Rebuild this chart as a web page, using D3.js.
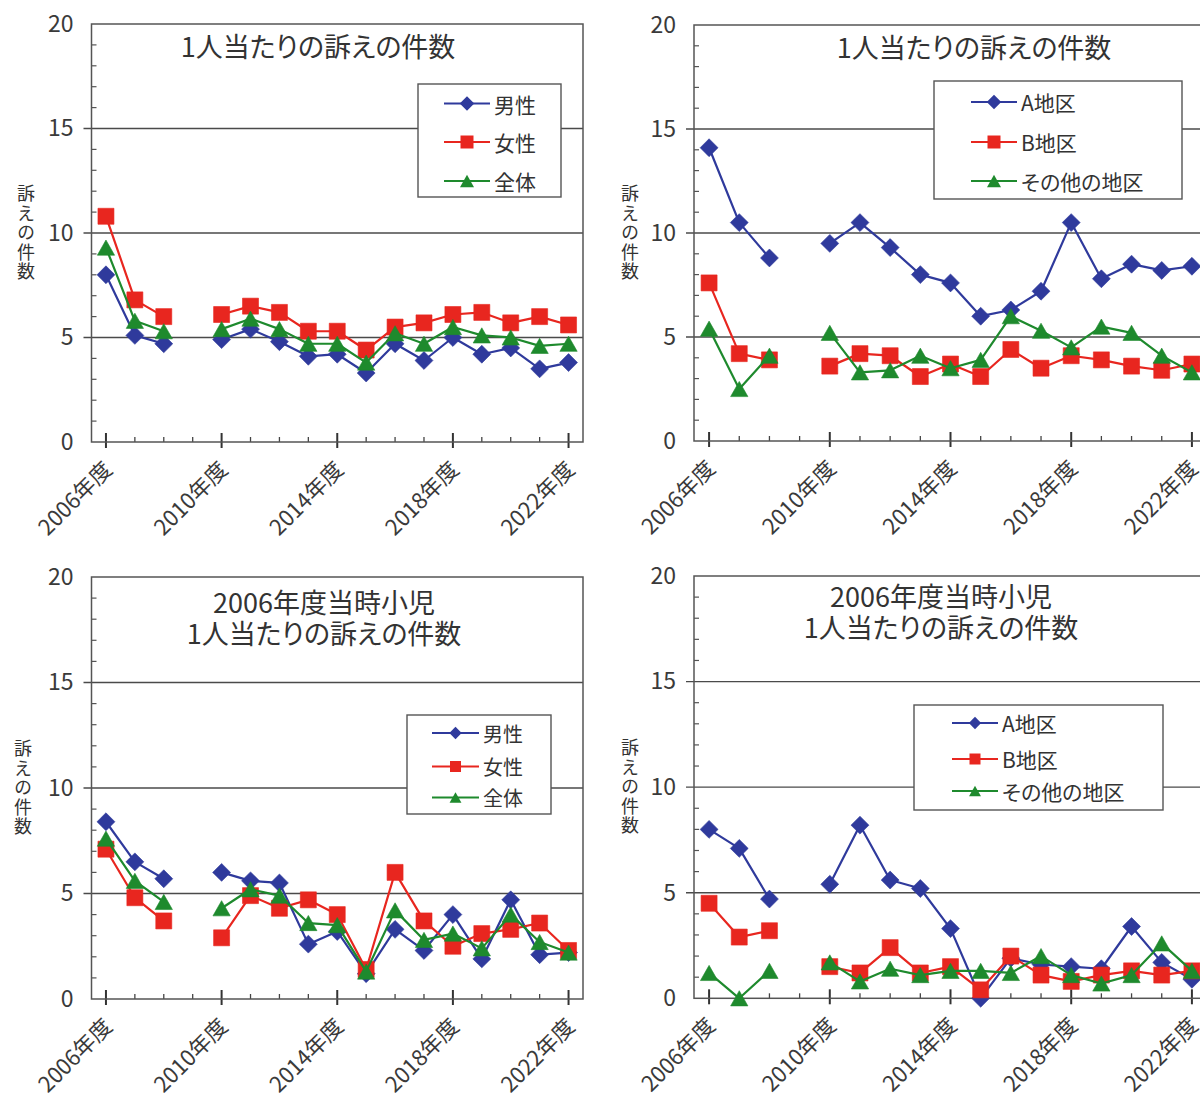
<!DOCTYPE html>
<html><head><meta charset="utf-8">
<script src="https://cdn.jsdelivr.net/npm/d3@7"></script>
<style>
body{margin:0;background:#fff}
svg{display:block}
text{font-family:"Noto Sans CJK JP","Noto Sans",sans-serif;fill:#333}
.ttl{font-feature-settings:"palt"}
.vt{writing-mode:vertical-rl;text-orientation:upright}
</style>
</head><body>
<svg id="c" width="1200" height="1100"></svg>
<script>
// ---------- data ----------
const years = [2006,2007,2008,2009,2010,2011,2012,2013,2014,2015,2016,2017,2018,2019,2020,2021,2022];
const xTickYears = [2006,2010,2014,2018,2022];
const yTicks = [0,5,10,15,20];

// top-left: 1人当たりの訴えの件数 (男性/女性/全体)
const tlMale   = [8.0,5.1,4.7,null,4.9,5.4,4.8,4.1,4.2,3.3,4.7,3.9,5.0,4.2,4.5,3.5,3.8];
const tlFemale = [10.8,6.8,6.0,null,6.1,6.5,6.2,5.3,5.3,4.4,5.5,5.7,6.1,6.2,5.7,6.0,5.6];
const tlTotal  = [9.3,5.8,5.3,null,5.4,5.9,5.4,4.7,4.7,3.8,5.2,4.7,5.5,5.1,5.0,4.6,4.7];

// top-right: 1人当たりの訴えの件数 (A地区/B地区/その他の地区)
const trA     = [14.1,10.5,8.8,null,9.5,10.5,9.3,8.0,7.6,6.0,6.3,7.2,10.5,7.8,8.5,8.2,8.4];
const trB     = [7.6,4.2,3.9,null,3.6,4.2,4.1,3.1,3.7,3.1,4.4,3.5,4.1,3.9,3.6,3.4,3.7];
const trOther = [5.4,2.5,4.1,null,5.2,3.3,3.4,4.1,3.5,3.9,6.0,5.3,4.5,5.5,5.2,4.1,3.3];

// bottom-left: 2006年度当時小児 (男性/女性/全体)
const blMale   = [8.4,6.5,5.7,null,6.0,5.6,5.5,2.6,3.2,1.2,3.3,2.3,4.0,1.9,4.7,2.1,2.2];
const blFemale = [7.1,4.8,3.7,null,2.9,4.9,4.3,4.7,4.0,1.4,6.0,3.7,2.5,3.1,3.3,3.6,2.3];
const blTotal  = [7.6,5.6,4.6,null,4.3,5.2,4.9,3.6,3.5,1.3,4.2,2.8,3.1,2.4,4.0,2.7,2.2];

// bottom-right: 2006年度当時小児 (A地区/B地区/その他の地区)
const brA     = [8.0,7.1,4.7,null,5.4,8.2,5.6,5.2,3.3,0.0,1.9,1.6,1.5,1.4,3.4,1.7,0.9];
const brB     = [4.5,2.9,3.2,null,1.5,1.2,2.4,1.2,1.5,0.4,2.0,1.1,0.8,1.1,1.3,1.1,1.3];
const brOther = [1.2,0.0,1.3,null,1.7,0.8,1.4,1.1,1.3,1.3,1.2,2.0,1.1,0.7,1.1,2.6,1.3];

const genderNames = ["男性","女性","全体"];
const areaNames = ["A地区","B地区","その他の地区"];
const titleTop = ["1人当たりの訴えの件数"];
const titleBottom = ["2006年度当時小児","1人当たりの訴えの件数"];
const yAxisTitle = "訴えの件数";
const yearSuffix = "年度";

// ---------- styles / layout ----------
const colors = ["#2f3a9c","#e8261f","#1e8a2d"];
const shapes = ["diamond","square","triangle"];

const panels = [
  {x0:91.5,x1:583,yb:442,yt:24, series:[tlMale,tlFemale,tlTotal], names:genderNames,
   title:titleTop, tx:318, ty:47, yTitleX:26,
   lg:{x:418,y:84,w:143,h:113,rows:[103.5,142,181],l0:444,l1:490,tx:494,fs:21,ms:13}},
  {x0:694,x1:1207,yb:441,yt:25, series:[trA,trB,trOther], names:areaNames,
   title:titleTop, tx:974, ty:48, yTitleX:630,
   lg:{x:934,y:81,w:248,h:118,rows:[102,142,181],l0:971,l1:1017,tx:1021,fs:21,ms:13}},
  {x0:91.5,x1:583,yb:999,yt:577, series:[blMale,blFemale,blTotal], names:genderNames,
   title:titleBottom, tx:324, ty:603, yTitleX:23,
   lg:{x:407,y:715,w:144,h:99,rows:[733,766.5,797.5],l0:432,l1:479,tx:483,fs:20,ms:11}},
  {x0:694,x1:1207,yb:998.3,yt:576, series:[brA,brB,brOther], names:areaNames,
   title:titleBottom, tx:941, ty:597, yTitleX:630,
   lg:{x:914,y:705,w:249,h:105,rows:[723,759,791],l0:952,l1:998,tx:1002,fs:21,ms:11}}
];

function markerPath(shape, s){
  if(shape==="diamond"){const r=s*0.56;return `M0,${-r}L${r},0L0,${r}L${-r},0Z`;}
  if(shape==="square"){const h=s/2;return `M${-h},${-h}H${h}V${h}H${-h}Z`;}
  const w=s*1.08,h=s*0.95;return `M0,${-h/2}L${w/2},${h/2}L${-w/2},${h/2}Z`;
}

const svg = d3.select("#c");
svg.append("rect").attr("width",1200).attr("height",1100).attr("fill","#fff");

panels.forEach(p=>{
  const g = svg.append("g");
  const x = d3.scaleLinear().domain([2005.5,2022.5]).range([p.x0,p.x1]);
  const y = d3.scaleLinear().domain([0,20]).range([p.yb,p.yt]);

  g.append("rect").attr("x",p.x0).attr("y",p.yt).attr("width",p.x1-p.x0).attr("height",p.yb-p.yt)
    .attr("fill","#fff");

  // gridlines
  g.selectAll(".grid").data([5,10,15]).join("line")
    .attr("x1",p.x0-8).attr("x2",p.x1).attr("y1",d=>y(d)).attr("y2",d=>y(d))
    .attr("stroke","#4a4a4a").attr("stroke-width",1.4);

  // minor y ticks (inward)
  g.selectAll(".ymin").data(d3.range(1,20).filter(v=>v%5!==0)).join("line")
    .attr("x1",p.x0).attr("x2",p.x0+5).attr("y1",d=>y(d)).attr("y2",d=>y(d))
    .attr("stroke","#555").attr("stroke-width",1.2);

  // x ticks
  const allYears = d3.range(2006,2023);
  g.selectAll(".xmin").data(allYears.filter(v=>!xTickYears.includes(v))).join("line")
    .attr("x1",d=>x(d)).attr("x2",d=>x(d)).attr("y1",p.yb-5).attr("y2",p.yb)
    .attr("stroke","#444").attr("stroke-width",1.3);
  g.selectAll(".xmaj").data(xTickYears).join("line")
    .attr("x1",d=>x(d)).attr("x2",d=>x(d)).attr("y1",p.yb-9).attr("y2",p.yb+6)
    .attr("stroke","#333").attr("stroke-width",2);

  // border
  g.append("rect").attr("x",p.x0).attr("y",p.yt).attr("width",p.x1-p.x0).attr("height",p.yb-p.yt)
    .attr("fill","none").attr("stroke","#555").attr("stroke-width",1.5);

  // y axis labels
  const ya = g.append("g").attr("transform",`translate(${p.x0},0)`)
    .call(d3.axisLeft(y).tickValues(yTicks).tickSize(0).tickPadding(18));
  ya.select(".domain").remove();
  ya.selectAll("text").attr("font-size",23).attr("font-family",null).style("fill","#3a3a3a");

  // x axis labels
  const xa = g.append("g").attr("transform",`translate(0,${p.yb})`)
    .call(d3.axisBottom(x).tickValues(xTickYears).tickSize(0).tickFormat(d=>d+yearSuffix));
  xa.select(".domain").remove();
  xa.selectAll("text").attr("x",0).attr("y",0).attr("dy",0)
    .attr("text-anchor","end").attr("transform","translate(7,29) rotate(-45)")
    .attr("font-size",22).attr("font-family",null).style("fill","#3a3a3a");

  // y axis title (vertical)
  const ym = (p.yb+p.yt)/2;
  g.append("text").attr("class","vt").attr("x",p.yTitleX).attr("y",ym)
    .attr("text-anchor","middle").attr("font-size",18).attr("letter-spacing",1.5)
    .text(yAxisTitle);

  // title (one text, lines as tspans)
  const t = g.append("text").attr("class","ttl").attr("text-anchor","middle")
    .attr("font-size",27).attr("x",p.tx).attr("y",p.ty+9.5);
  t.selectAll("tspan").data(p.title).join("tspan")
    .attr("x",p.tx).attr("dy",(d,i)=>i===0?0:31).text(d=>d);

  // series
  p.series.forEach((vals,si)=>{
    const data = years.map((yr,i)=>({year:yr,v:vals[i]}));
    const line = d3.line().defined(d=>d.v!=null).x(d=>x(d.year)).y(d=>y(d.v));
    g.append("path").datum(data).attr("d",line).attr("fill","none")
      .attr("stroke",colors[si]).attr("stroke-width",2.2).attr("stroke-linejoin","round");
    g.selectAll(".m"+si).data(data.filter(d=>d.v!=null)).join("path")
      .attr("transform",d=>`translate(${x(d.year)},${y(d.v)})`)
      .attr("d",markerPath(shapes[si],16)).attr("fill",colors[si])
      .attr("stroke",colors[si]).attr("stroke-width",0.6);
  });

  // legend
  const L = p.lg;
  const lg = g.append("g");
  lg.append("rect").attr("x",L.x).attr("y",L.y).attr("width",L.w).attr("height",L.h)
    .attr("fill","#fff").attr("stroke","#555").attr("stroke-width",1.4);
  p.names.forEach((nm,si)=>{
    const ry = L.rows[si];
    lg.append("line").attr("x1",L.l0).attr("x2",L.l1).attr("y1",ry).attr("y2",ry)
      .attr("stroke",colors[si]).attr("stroke-width",2.2);
    lg.append("path").attr("transform",`translate(${(L.l0+L.l1)/2},${ry})`)
      .attr("d",markerPath(shapes[si],L.ms)).attr("fill",colors[si]);
    lg.append("text").attr("class","ttl").attr("x",L.tx).attr("y",ry).attr("dominant-baseline","central")
      .attr("font-size",L.fs).text(nm);
  });
});
</script>
</body></html>
